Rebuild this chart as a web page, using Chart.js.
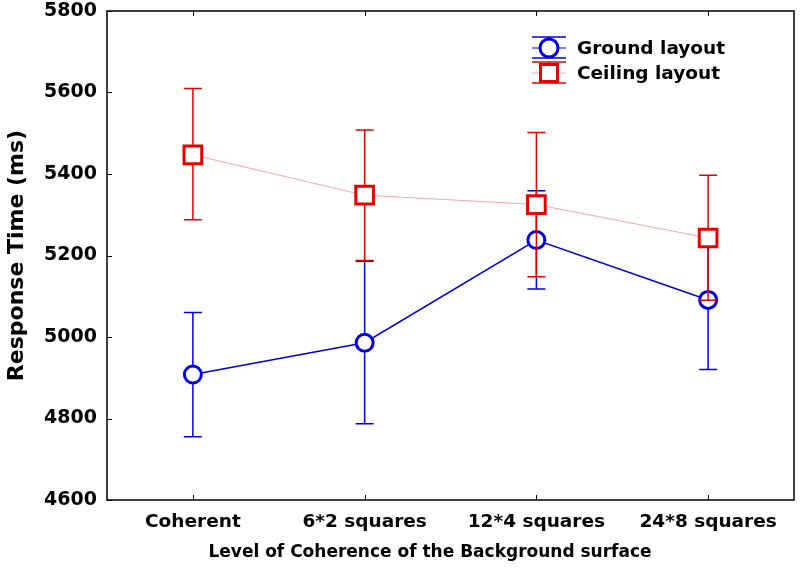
<!DOCTYPE html>
<html>
<head>
<meta charset="utf-8">
<script src="https://cdn.jsdelivr.net/npm/chart.js@4.4.1/dist/chart.umd.min.js"></script>
<style>
html,body{margin:0;padding:0;background:#fff}
</style>
</head>
<body>
<canvas id="grafico" width="800" height="574"></canvas>
<script>
// categorie asse x
const livelli = ["Coherent", "6*2 squares", "12*4 squares", "24*8 squares"];
// tick asse y
const tickY = [4600, 4800, 5000, 5200, 5400, 5600, 5800];

// Ground layout: media e limiti delle barre d'errore
const groundMedia = [4908, 4986, 5238, 5091];
const groundMin = [4755, 4787, 5118, 4920];
const groundMax = [5060, 5186, 5359, 5250];

// Ceiling layout
const ceilingMedia = [5447, 5348, 5325, 5243];
const ceilingMin = [5288, 5188, 5148, 5090];
const ceilingMax = [5610, 5508, 5502, 5397];

const blu = "#0000e6";
const rosso = "#e60000";
const rosa = "#f2a6a6";
const font = "'DejaVu Sans', Verdana, sans-serif";

//barre d'errore disegnate prima di ogni dataset, cosi il rosso sta sopra ai cerchi blu
const erroriPlugin = {
    id: "errori",
    beforeDatasetDraw(chart, args) {
        const ds = chart.data.datasets[args.index];
        const meta = args.meta;
        const y = chart.scales.y;
        const ctx = chart.ctx;
        ctx.save();
        ctx.strokeStyle = ds.pointBorderColor;
        ctx.lineWidth = 1.5;
        meta.data.forEach((p, i) => {
            const y1 = y.getPixelForValue(ds.errMin[i]);
            const y2 = y.getPixelForValue(ds.errMax[i]);
            ctx.beginPath();
            ctx.moveTo(p.x, y1); ctx.lineTo(p.x, y2);
            ctx.moveTo(p.x - 9, y1); ctx.lineTo(p.x + 9, y1);
            ctx.moveTo(p.x - 9, y2); ctx.lineTo(p.x + 9, y2);
            ctx.stroke();
        });
        ctx.restore();
    }
};

//cornice, tacche interne, titolo asse x e legenda
const cornicePlugin = {
    id: "cornice",
    afterDraw(chart) {
        const ctx = chart.ctx;
        const a = chart.chartArea;
        const x = chart.scales.x, y = chart.scales.y;
        ctx.save();
        ctx.strokeStyle = "#000";
        ctx.lineWidth = 1.5;
        ctx.strokeRect(a.left, a.top, a.right - a.left, a.bottom - a.top);
        ctx.lineWidth = 1;
        ctx.beginPath();
        tickY.forEach(v => {
            const py = Math.round(y.getPixelForValue(v)) + 0.5;
            ctx.moveTo(a.left, py); ctx.lineTo(a.left + 5, py);
        });
        livelli.forEach((l, i) => {
            const px = Math.round(x.getPixelForValue(i)) + 0.5;
            ctx.moveTo(px, a.bottom); ctx.lineTo(px, a.bottom - 5);
            ctx.moveTo(px, a.top); ctx.lineTo(px, a.top + 5);
        });
        ctx.stroke();

        // titolo asse x
        ctx.fillStyle = "#000";
        ctx.font = "bold 17px " + font;
        ctx.textAlign = "center";
        ctx.textBaseline = "middle";
        ctx.fillText("Level of Coherence of the Background surface", 430, 553);

        // legenda
        const voci = [
            {testo: "Ground layout", colore: blu, linea: blu, cy: 48, tipo: "cerchio"},
            {testo: "Ceiling layout", colore: rosso, linea: rosa, cy: 73, tipo: "quadrato"}
        ];
        voci.forEach(v => {
            const x0 = 532, x1 = 566, cx = 549;
            ctx.lineWidth = 1.5;
            ctx.strokeStyle = v.colore;
            ctx.beginPath();
            ctx.moveTo(x0, v.cy - 11); ctx.lineTo(x1, v.cy - 11);
            ctx.moveTo(x0, v.cy + 10); ctx.lineTo(x1, v.cy + 10);
            ctx.moveTo(cx, v.cy - 11); ctx.lineTo(cx, v.cy + 10);
            ctx.stroke();
            ctx.strokeStyle = v.linea;
            ctx.lineWidth = 1;
            ctx.beginPath();
            ctx.moveTo(x0, v.cy); ctx.lineTo(x1, v.cy);
            ctx.stroke();
            ctx.fillStyle = "#fff";
            ctx.strokeStyle = v.colore;
            ctx.lineWidth = 3;
            ctx.beginPath();
            if (v.tipo === "cerchio") ctx.arc(cx, v.cy, 9, 0, Math.PI * 2);
            else ctx.rect(cx - 8.5, v.cy - 8.5, 17, 17);
            ctx.fill(); ctx.stroke();
            ctx.fillStyle = "#000";
            ctx.font = "bold 18.5px " + font;
            ctx.textBaseline = "middle";
            ctx.textAlign = "left";
            ctx.fillText(v.testo, 577, v.cy + 1);
        });
        ctx.restore();
    }
};

new Chart(document.getElementById("grafico").getContext("2d"), {
    type: "line",
    data: {
        labels: livelli,
        datasets: [{
            label: "Ground layout",
            data: groundMedia,
            errMin: groundMin,
            errMax: groundMax,
            borderColor: blu,
            borderWidth: 1.5,
            pointStyle: "circle",
            pointRadius: 8.5,
            pointBorderWidth: 3,
            pointBorderColor: blu,
            pointBackgroundColor: "#fff",
            order: 2
        }, {
            label: "Ceiling layout",
            data: ceilingMedia,
            errMin: ceilingMin,
            errMax: ceilingMax,
            borderColor: rosa,
            borderWidth: 1,
            pointStyle: "rect",
            pointRadius: 12.5,
            pointBorderWidth: 3,
            pointBorderColor: rosso,
            pointBackgroundColor: "#fff",
            order: 1
        }]
    },
    options: {
        responsive: false,
        animation: false,
        layout: {autoPadding: false, padding: {top: 11, right: 6, left: 0, bottom: 0}},
        plugins: {
            legend: {display: false},
            tooltip: {enabled: false}
        },
        scales: {
            x: {
                offset: true,
                grid: {display: false, drawTicks: false},
                border: {display: false},
                ticks: {color: "#000", padding: 11, font: {family: font, size: 18.5, weight: "bold"}},
                afterFit(s) { s.height = 74; s.paddingLeft = 0; s.paddingRight = 0; }
            },
            y: {
                min: 4600,
                max: 5800,
                grid: {display: false, drawTicks: false},
                border: {display: false},
                afterBuildTicks(s) { s.ticks = tickY.map(v => ({value: v})); },
                ticks: {color: "#000", padding: 10, font: {family: font, size: 19, weight: "bold"},
                    callback: v => String(v)},
                title: {display: true, text: "Response Time (ms)", color: "#000",
                    padding: {top: 4, bottom: 0}, font: {family: font, size: 22, weight: "bold"}},
                afterFit(s) { s.width = 107; s.paddingTop = 0; s.paddingBottom = 0; }
            }
        }
    },
    plugins: [erroriPlugin, cornicePlugin]
});
</script>
</body>
</html>
